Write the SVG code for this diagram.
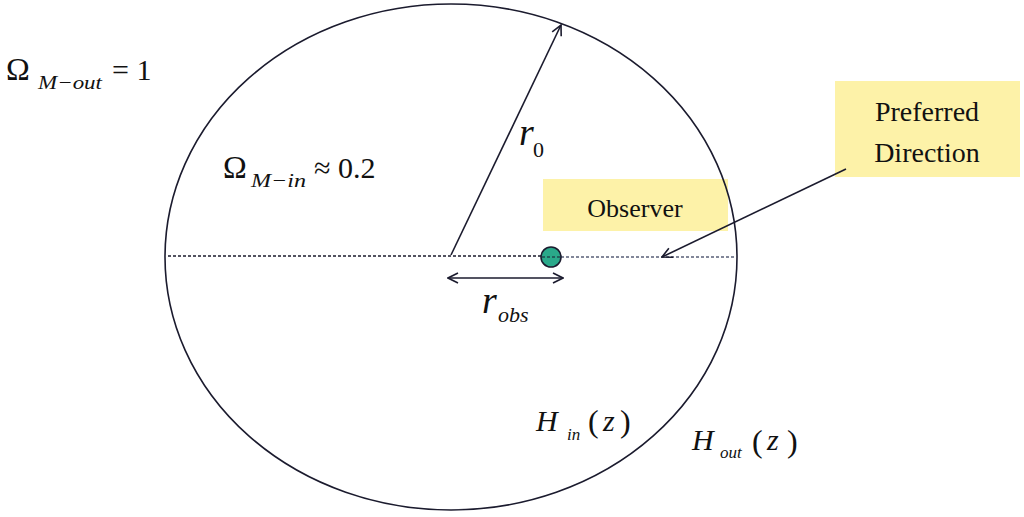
<svg xmlns="http://www.w3.org/2000/svg" width="1024" height="517" viewBox="0 0 1024 517">
<defs>
  <marker id="open" viewBox="0 0 12 12" refX="11" refY="6" markerWidth="12" markerHeight="12" markerUnits="userSpaceOnUse" orient="auto-start-reverse">
    <path d="M1,1 L11,6 L1,11" fill="none" stroke="#1b1b2e" stroke-width="1.6"/>
  </marker>
</defs>
<rect width="1024" height="517" fill="#ffffff"/>

<g id="labels-bg" fill="#fdf2a8">
  <rect id="observer-box" x="543" y="179" width="185" height="52"/>
  <rect id="preferred-box" x="835" y="81" width="185" height="96"/>
</g>

<g id="universe">
  <ellipse cx="451" cy="257" rx="286" ry="253" fill="none" stroke="#1b1b2e" stroke-width="1.6"/>
</g>

<g id="connectors" stroke="#1b1b2e" stroke-width="1.6" fill="none">
  <line x1="168" y1="256" x2="541" y2="256" stroke-width="1.5" stroke-dasharray="3,2"/>
  <line x1="561" y1="257" x2="736" y2="257" stroke="#5a6078" stroke-width="1.5" stroke-dasharray="3,2"/>
  <line x1="451" y1="255" x2="561" y2="25" marker-end="url(#open)"/>
  <line x1="448" y1="278" x2="563" y2="278" marker-start="url(#open)" marker-end="url(#open)"/>
  <line x1="846" y1="169" x2="662" y2="257" marker-end="url(#open)"/>
</g>

<g id="observer">
  <circle cx="551" cy="257" r="10" fill="#2aa98a" stroke="#1b1b2e" stroke-width="1.6"/>
  <line x1="542" y1="257" x2="560" y2="257" stroke="#1b1b2e" stroke-width="1.2" stroke-dasharray="3,2"/>
</g>

<g id="texts" fill="#111111">
  <text font-family="Liberation Serif" x="635" y="217" font-size="26" text-anchor="middle">Observer</text>
  <text font-family="Liberation Serif" x="927" y="121" font-size="28" text-anchor="middle">Preferred</text>
  <text font-family="Liberation Serif" x="927" y="162" font-size="28" text-anchor="middle">Direction</text>

  <text font-family="Liberation Serif" x="6" y="80" font-size="32">Ω</text>
  <text font-family="Liberation Serif" font-style="italic" x="38" y="89" font-size="19" textLength="64" lengthAdjust="spacingAndGlyphs">M−out</text>
  <text font-family="Liberation Serif" x="112" y="80" font-size="30">= 1</text>

  <text font-family="Liberation Serif" x="223" y="178" font-size="32">Ω</text>
  <text font-family="Liberation Serif" font-style="italic" x="251" y="187" font-size="19" textLength="55" lengthAdjust="spacingAndGlyphs">M−in</text>
  <text font-family="Liberation Serif" x="314" y="178" font-size="30">≈ 0.2</text>

  <text font-family="Liberation Serif" font-style="italic" x="519" y="145" font-size="38">r</text>
  <text font-family="Liberation Serif" x="533" y="157" font-size="22">0</text>

  <text font-family="Liberation Serif" font-style="italic" x="482" y="313" font-size="38">r</text>
  <text font-family="Liberation Serif" font-style="italic" x="498" y="322" font-size="22">obs</text>

  <text font-family="Liberation Serif" font-style="italic" x="536" y="431" font-size="30">H</text>
  <text font-family="Liberation Serif" font-style="italic" x="567" y="440" font-size="17">in</text>
  <text font-family="Liberation Serif" x="588" y="432" font-size="32">(</text>
  <text font-family="Liberation Serif" font-style="italic" x="603" y="431" font-size="30">z</text>
  <text font-family="Liberation Serif" x="620" y="432" font-size="32">)</text>

  <text font-family="Liberation Serif" font-style="italic" x="692" y="450" font-size="30">H</text>
  <text font-family="Liberation Serif" font-style="italic" x="720" y="458" font-size="17">out</text>
  <text font-family="Liberation Serif" x="752" y="452" font-size="32">(</text>
  <text font-family="Liberation Serif" font-style="italic" x="767" y="450" font-size="30">z</text>
  <text font-family="Liberation Serif" x="787" y="452" font-size="32">)</text>
</g>
</svg>
